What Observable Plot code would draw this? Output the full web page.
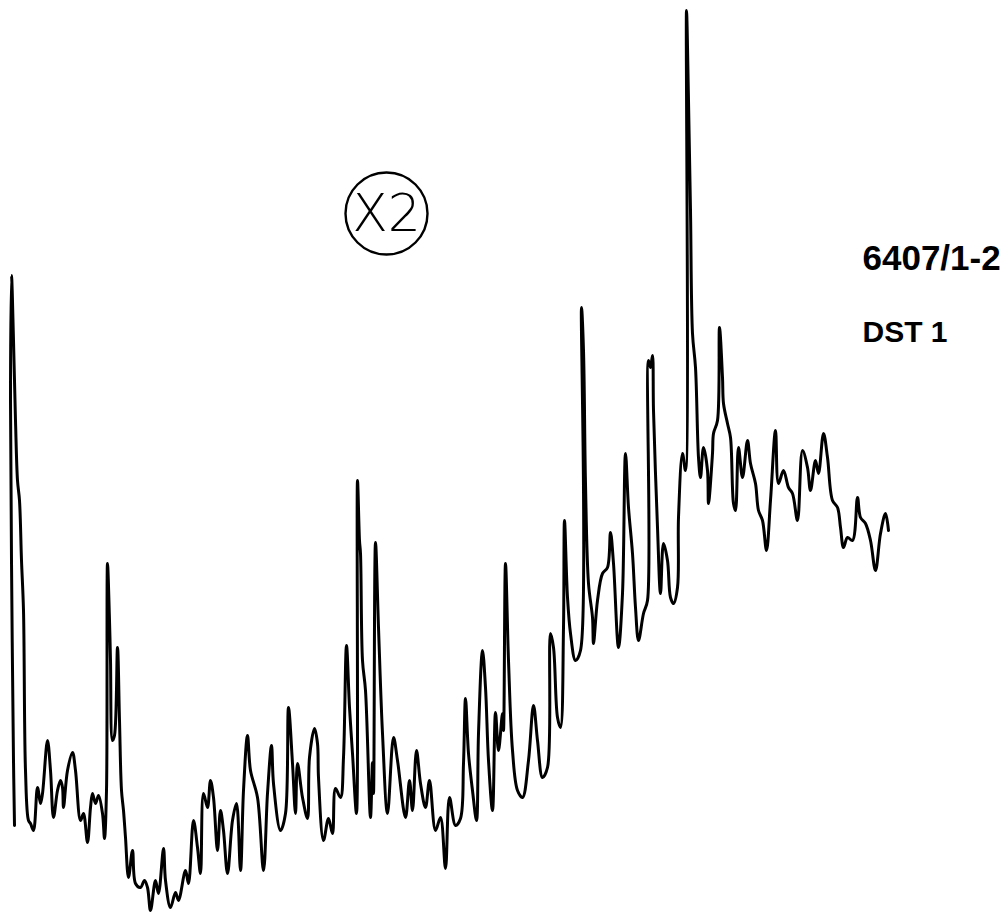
<!DOCTYPE html>
<html>
<head>
<meta charset="utf-8">
<script src="https://cdn.jsdelivr.net/npm/d3@7"></script>
<script src="https://cdn.jsdelivr.net/npm/@observablehq/plot@0.6"></script>
<style>
  html, body { margin: 0; padding: 0; background: #ffffff; }
  #chart svg { display: block; }
</style>
</head>
<body>
<div id="chart"></div>
<script>
// Retention position (trace order) and detector signal
const time = [
  14,13,11,10,11,13,15,17,19,21,
  23,25,28,30,33,37,40,42,47,50,
  53,57,60,62,63,67,72,75,80,83,
  87,90,92,95,98,102,104,106,107,109,
  110,112,114,117,119,121,123,125,128,132,
  135,140,144,147,150,155,158,163,165,170,
  175,178,185,188,193,197,200,203,207,210,
  213,217,220,223,227,232,236,240,243,247,
  250,257,263,267,271,273,280,285,288,292,
  295,297,302,307,309,314,317,318,323,328,
  332,335,340,343,346,349,352,356,357,359,
  360,362,365,370,372,373,375,378,382,387,
  393,397,405,409,412,416,420,425,429,435,
  440,445,449,455,460,463,465,468,472,476,
  478,482,485,488,492,495,498,502,503,505,
  508,512,517,522,528,533,537,542,547,550,
  553,557,560,563,564,567,570,575,580,581,
  583,585,588,592,593,597,602,607,610,613,
  618,622,625,628,632,635,638,643,647,648,
  650,652,653,657,660,663,667,670,673,677,
  678,682,685,686,688,690,692,695,698,700,
  703,707,708,712,713,717,719,722,723,727,
  730,733,735,738,742,747,750,755,758,762,
  766,770,775,778,783,788,792,797,802,807,
  810,815,818,823,827,832,837,840,843,847,
  852,857,860,865,870,875,880,885,888
];
const signal = [
  93,158,358,518,643,578,498,438,418,358,
  308,148,98,95,88,131,115,125,178,148,
  101,128,138,131,111,148,166,148,98,105,
  76,111,125,115,123,105,80,128,355,298,
  258,178,183,271,198,128,108,81,41,68,
  35,31,38,31,8,38,25,70,38,11,
  26,18,48,35,98,71,45,125,111,138,
  121,68,108,88,45,98,115,48,128,183,
  148,121,48,125,173,135,88,105,211,155,
  105,155,121,100,161,190,175,141,78,100,
  85,130,121,161,273,211,165,105,438,378,
  365,258,228,101,156,125,376,291,185,105,
  181,158,101,138,108,168,135,111,138,88,
  101,50,121,93,100,155,220,165,128,98,
  185,268,231,158,108,206,168,205,188,355,
  258,168,128,121,158,213,178,141,151,285,
  271,201,191,291,398,321,285,258,268,611,
  568,435,335,301,275,318,345,351,386,355,
  271,325,465,411,365,311,278,305,318,558,
  551,563,508,391,325,375,358,321,315,331,
  401,465,448,908,818,708,585,551,461,441,
  471,448,415,465,485,498,591,541,515,495,
  481,415,408,471,441,478,455,435,408,398,
  368,418,488,435,448,431,425,398,468,451,
  428,458,445,485,461,418,411,391,371,381,
  378,421,401,395,378,348,385,405,388
];

// Annotations
const sampleLabels = ["6407/1-2", "DST 1"];
const sampleLabelTime = [862, 862];
const sampleLabelSignal = [660, 586];
const gainLabel = ["X2"];
const gainTime = [386];
const gainSignal = [705];

const trace = time.map((t, i) => ({time: t, signal: signal[i]}));
const labelsBig = [{text: sampleLabels[0], time: sampleLabelTime[0], signal: sampleLabelSignal[0]}];
const labelsSmall = [{text: sampleLabels[1], time: sampleLabelTime[1], signal: sampleLabelSignal[1]}];
const gain = gainLabel.map((g, i) => ({text: g, time: gainTime[i], signal: gainSignal[i]}));

const chart = Plot.plot({
  width: 1008,
  height: 918,
  margin: 0,
  x: {domain: [0, 1008], axis: null},
  y: {domain: [0, 918], axis: null},
  style: {background: "#ffffff"},
  marks: [
    Plot.line(trace, {x: "time", y: "signal", curve: "catmull-rom", stroke: "#000", strokeWidth: 3, strokeLinejoin: "round", strokeLinecap: "round"}),
    Plot.dot(gain, {x: "time", y: "signal", r: 41, stroke: "#000", strokeWidth: 2.4, fill: "none"}),
    Plot.text(gain, {x: "time", y: "signal", text: "text", fontSize: 52, fontWeight: 200, fontFamily: "DejaVu Sans", fill: "#000", dy: 1}),
    Plot.text(labelsBig, {x: "time", y: "signal", text: "text", textAnchor: "start", fontSize: 35, fontWeight: "bold", fontFamily: "Liberation Sans", fill: "#000"}),
    Plot.text(labelsSmall, {x: "time", y: "signal", text: "text", textAnchor: "start", fontSize: 30, fontWeight: "bold", fontFamily: "Liberation Sans", fill: "#000", letterSpacing: 1.5})
  ]
});
document.getElementById("chart").appendChild(chart);
</script>
</body>
</html>
